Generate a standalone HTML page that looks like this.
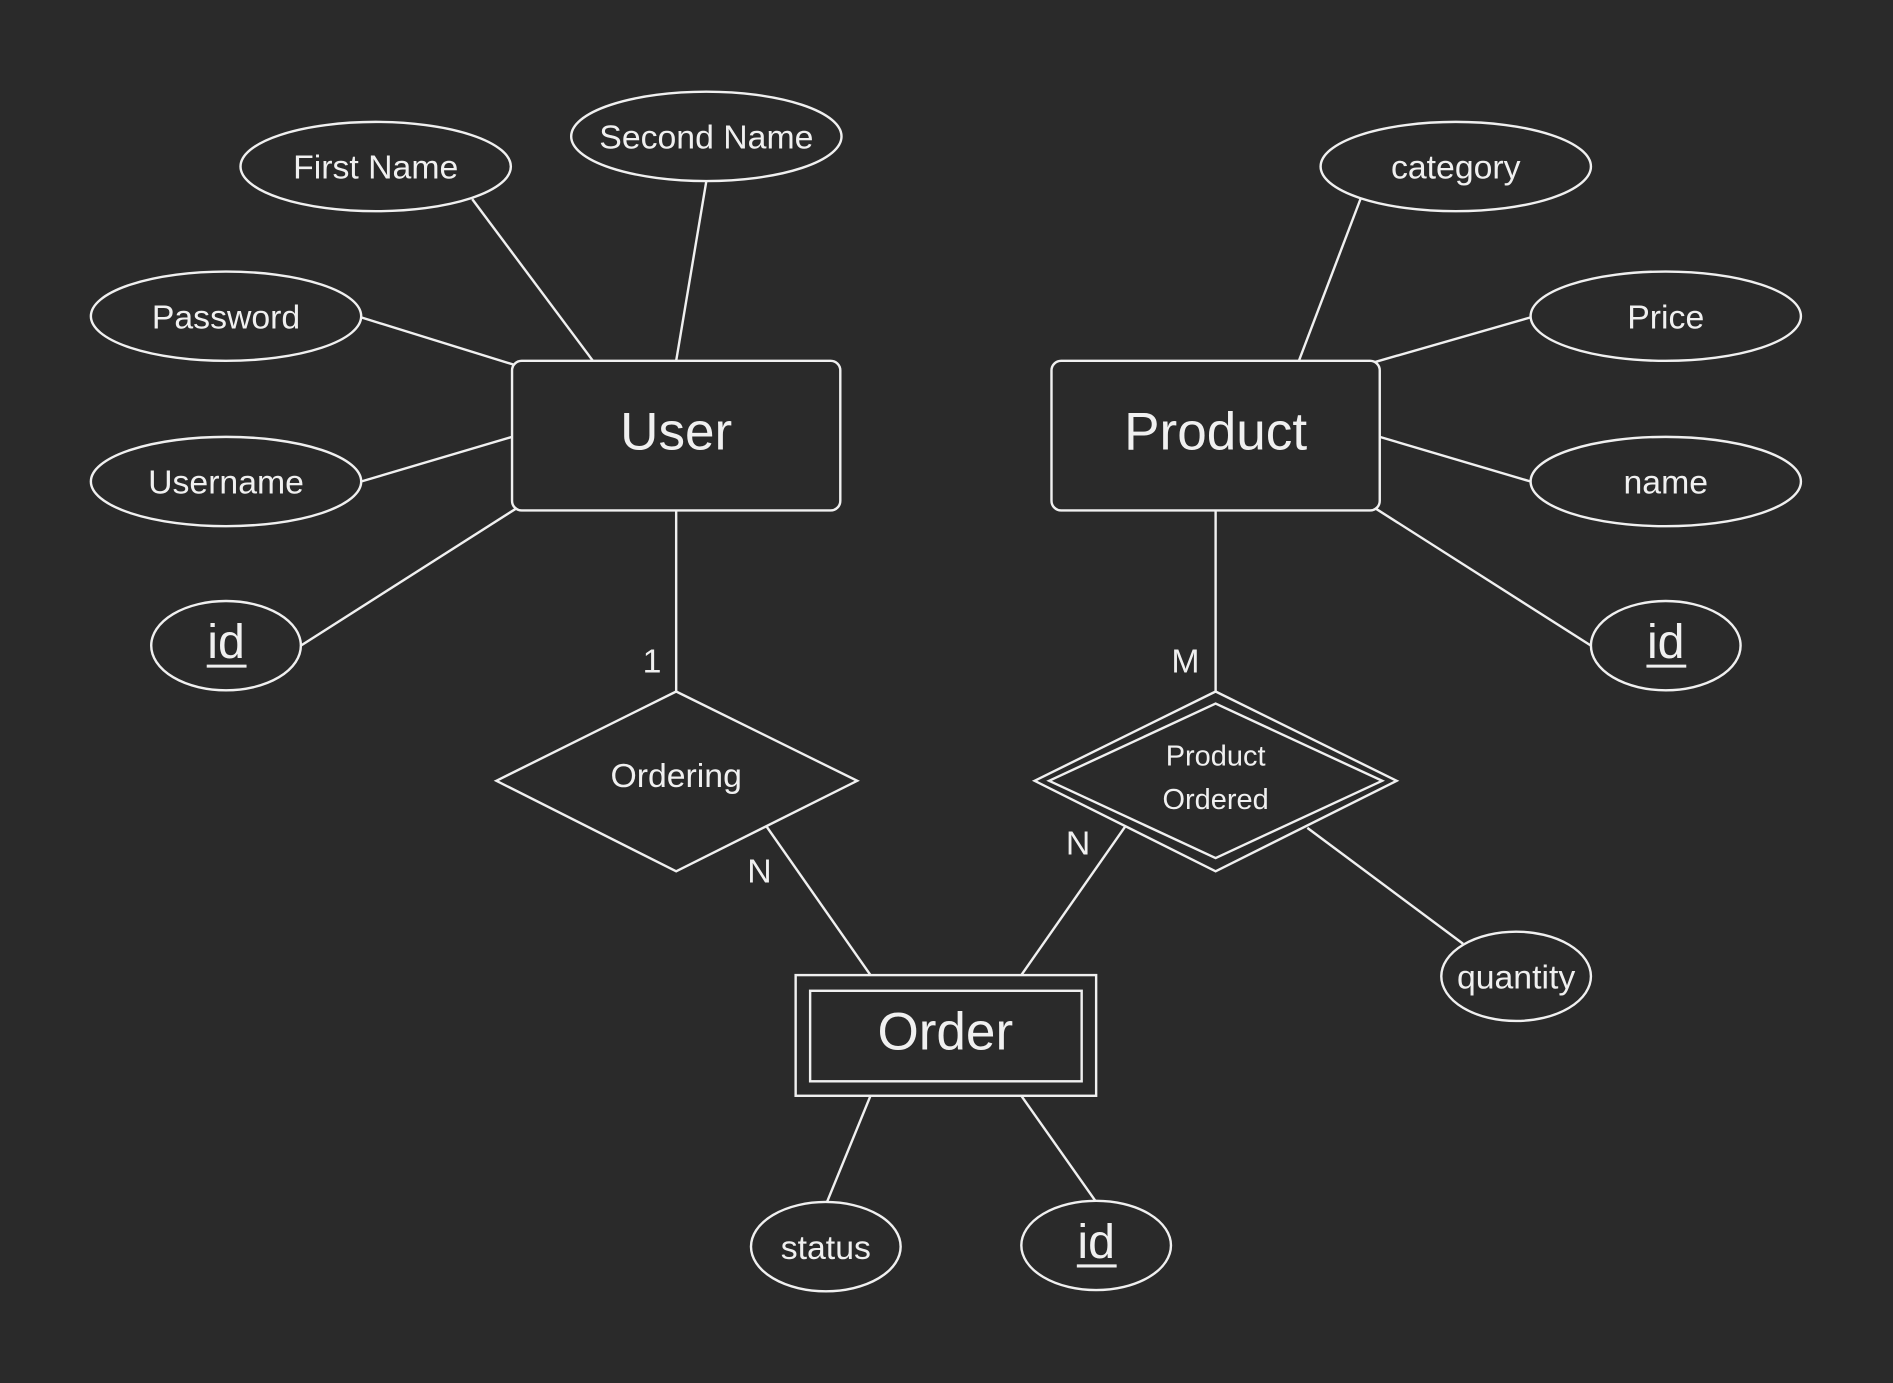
<!DOCTYPE html>
<html><head><meta charset="utf-8"><style>
html,body{margin:0;padding:0;background:#2a2a2a;}
svg{display:block}
text{font-family:"Liberation Sans",sans-serif;fill:#f0f0f0;text-anchor:middle;dominant-baseline:central}
</style></head><body>
<svg width="1893" height="1383" viewBox="0 0 1568 1146" xmlns="http://www.w3.org/2000/svg">
<rect width="1568" height="1146" fill="#2a2a2a"/>
<g stroke="#f0f0f0" stroke-width="2" fill="none">
<line x1="391" y1="165" x2="491" y2="299"/>
<line x1="585" y1="150" x2="560" y2="299"/>
<line x1="299" y1="263" x2="428" y2="303"/>
<line x1="299" y1="399" x2="424" y2="362"/>
<line x1="249" y1="535" x2="428" y2="421"/>
<line x1="560" y1="423" x2="560" y2="573"/>
<line x1="1127" y1="165" x2="1076" y2="299"/>
<line x1="1268" y1="263" x2="1139" y2="300"/>
<line x1="1268" y1="399" x2="1143" y2="362"/>
<line x1="1318" y1="535" x2="1139" y2="421"/>
<line x1="1007" y1="423" x2="1007" y2="573"/>
<line x1="635" y1="685" x2="721" y2="808"/>
<line x1="932" y1="685" x2="846" y2="808"/>
<line x1="1083" y1="686" x2="1212" y2="782"/>
<line x1="721" y1="908" x2="685" y2="996"/>
<line x1="846" y1="908" x2="908" y2="996"/>
</g>
<g stroke="#f0f0f0" stroke-width="2" fill="#2a2a2a">
<ellipse cx="311" cy="138" rx="112" ry="37"/>
<ellipse cx="585" cy="113" rx="112" ry="37"/>
<ellipse cx="187" cy="262" rx="112" ry="37"/>
<ellipse cx="187" cy="399" rx="112" ry="37"/>
<ellipse cx="187" cy="535" rx="62" ry="37"/>
<ellipse cx="1206" cy="138" rx="112" ry="37"/>
<ellipse cx="1380" cy="262" rx="112" ry="37"/>
<ellipse cx="1380" cy="399" rx="112" ry="37"/>
<ellipse cx="1380" cy="535" rx="62" ry="37"/>
<ellipse cx="1256" cy="809" rx="62" ry="37"/>
<ellipse cx="684" cy="1033" rx="62" ry="37"/>
<ellipse cx="908" cy="1032" rx="62" ry="37"/>
<rect x="424" y="299" width="272" height="124" rx="8"/>
<rect x="871" y="299" width="272" height="124" rx="8"/>
<polygon points="411,647 560,573 710,647 560,722"/>
<polygon points="857,647 1007,573 1157,647 1007,722"/>
<polygon points="869,647 1007,583 1145,647 1007,711"/>
<rect x="659" y="808" width="249" height="100"/>
<rect x="671" y="821" width="225" height="75"/>
</g>
<g font-size="28">
<text x="311" y="139">First Name</text>
<text x="585" y="114">Second Name</text>
<text x="187" y="263">Password</text>
<text x="187" y="400">Username</text>
<text x="1206" y="139">category</text>
<text x="1380" y="263">Price</text>
<text x="1380" y="400">name</text>
<text x="1256" y="810">quantity</text>
<text x="684" y="1034">status</text>
<text x="560" y="643">Ordering</text>
</g>
<g font-size="40">
<text x="187" y="532">id</text>
<text x="1380" y="532">id</text>
<text x="908" y="1029">id</text>
</g>
<g stroke="#f0f0f0" stroke-width="2.5">
<line x1="171" y1="552" x2="204" y2="552"/>
<line x1="1364" y1="552" x2="1397" y2="552"/>
<line x1="892" y1="1049" x2="925" y2="1049"/>
</g>
<text x="560" y="358" font-size="44">User</text>
<text x="1007" y="358" font-size="44">Product</text>
<text x="783" y="855" font-size="44">Order</text>
<text x="1007" y="627" font-size="24">Product</text>
<text x="1007" y="663" font-size="24">Ordered</text>
<g font-size="28">
<text x="540" y="548">1</text>
<text x="982" y="548">M</text>
<text x="629" y="722">N</text>
<text x="893" y="699">N</text>
</g>
</svg>
</body></html>
